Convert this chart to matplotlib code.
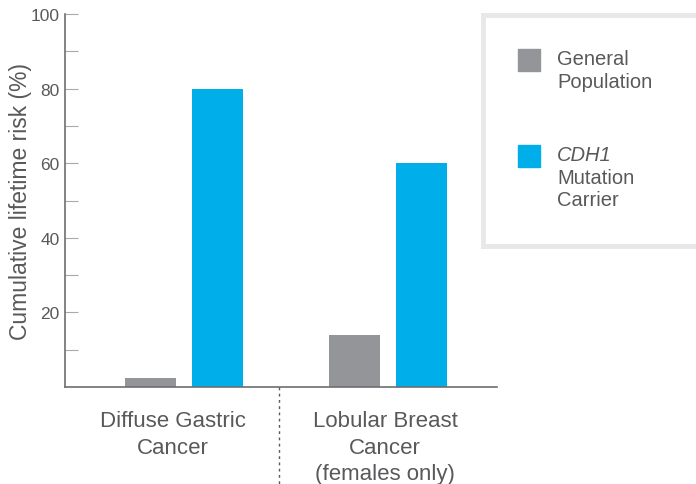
import matplotlib
matplotlib.use('Agg')
import matplotlib.pyplot as plt
from matplotlib.patches import Rectangle

# data
categories = [['Diffuse Gastric', 'Cancer'], ['Lobular Breast', 'Cancer', '(females only)']]
general_pop = [2.5, 14]
cdh1_carrier = [80, 60]
y_ticks = [20, 40, 60, 80, 100]

GRAY = '#939598'
BLUE = '#00aee9'
TEXT = '#58595b'

plt.rcParams['font.family'] = ['Liberation Sans', 'DejaVu Sans']

fig = plt.figure(figsize=(6.96, 4.85), dpi=100)
ax = fig.add_axes([65 / 696, 1 - 388 / 485, (497 - 65) / 696, (388 - 15) / 485])

x = [0, 1]
off = 0.162
w = 0.25
ax.bar([i - off for i in x], general_pop, width=w, color=GRAY)
ax.bar([i + off for i in x], cdh1_carrier, width=w, color=BLUE)

ax.set_xlim(-0.583, 1.534)
ax.set_ylim(0, 100)
ax.set_yticks(y_ticks)
ax.set_yticks([10, 30, 50, 70, 90], minor=True)
ax.set_xticks([])
ax.tick_params(axis='y', which='both', direction='in', length=9, width=0.8,
               color='#a7a9ac', labelsize=12.5, labelcolor=TEXT, pad=4)
ax.set_ylabel('Cumulative lifetime risk (%)', fontsize=16.5, color=TEXT)
ax.yaxis.set_label_coords(-0.076, 0.5)

for s in ['top', 'right']:
    ax.spines[s].set_visible(False)
for s in ['left', 'bottom']:
    ax.spines[s].set_color('#6d6e71')
    ax.spines[s].set_linewidth(1.2)

# category labels below the axis, one line at a time
label_x = [-0.054, 0.985]
line_y = [-0.091, -0.161, -0.233]
for lx, lines in zip(label_x, categories):
    for ly, line in zip(line_y, lines):
        ax.text(lx, ly, line, transform=ax.get_xaxis_transform(), ha='center', va='center',
                fontsize=16, color=TEXT)

# dashed divider between groups
ax.plot([0.465, 0.465], [0, -0.26], transform=ax.get_xaxis_transform(), clip_on=False,
        color='#58595b', lw=1, ls=(0, (2, 2.5)))

# legend box
lax = fig.add_axes([483 / 696, 1 - 247 / 485, (710 - 483) / 696, (247 - 16) / 485])
lax.set_xlim(483, 710)
lax.set_ylim(247, 16)
lax.set_xticks([])
lax.set_yticks([])
for s in lax.spines.values():
    s.set_color('#e8e8e9')
    s.set_linewidth(3.5)
lax.add_patch(Rectangle((518, 50), 22, 22, color=GRAY))
lax.add_patch(Rectangle((518, 146), 22, 22, color=BLUE))
legend_lines = [(60, 'General', 'normal'), (83, 'Population', 'normal'),
                (156, 'CDH1', 'italic'), (179, 'Mutation', 'normal'), (201, 'Carrier', 'normal')]
for ly, txt, st in legend_lines:
    lax.text(557, ly, txt, ha='left', va='center', fontsize=14.5, color=TEXT, style=st)

fig.savefig('out.png', dpi=100)
